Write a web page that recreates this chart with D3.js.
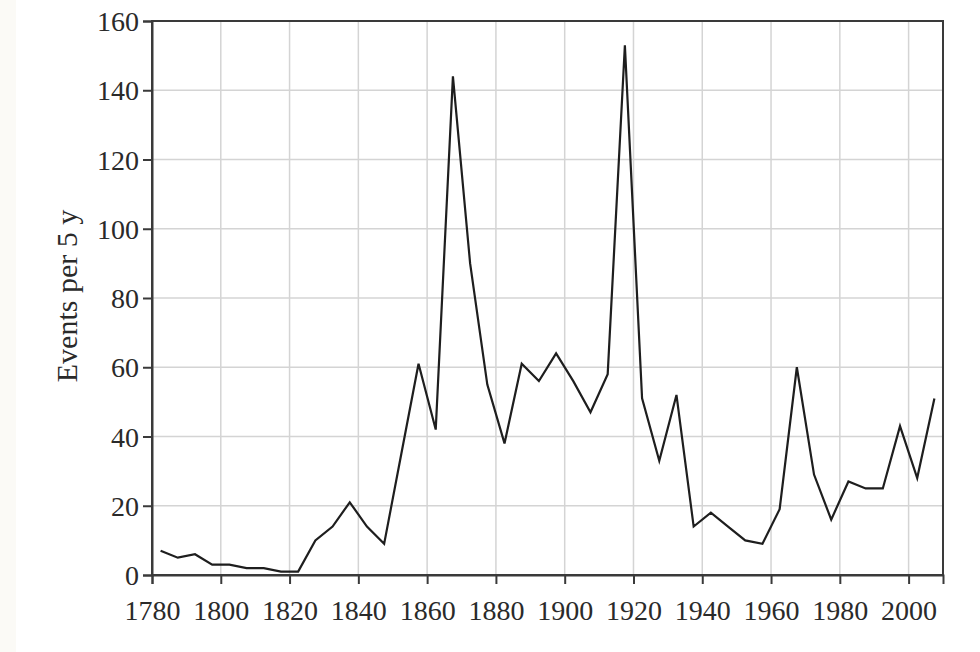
<!DOCTYPE html>
<html><head><meta charset="utf-8">
<script src="https://cdn.jsdelivr.net/npm/d3@7"></script>
<style>
html,body{margin:0;padding:0;background:#fff;}
svg{display:block;}
text{font-family:"Liberation Serif","DejaVu Serif",serif;fill:#2a2a2a;}
</style></head>
<body><svg id="c" width="980" height="652"></svg>
<script>
const years = [1782.5,1787.5,1792.5,1797.5,1802.5,1807.5,1812.5,1817.5,1822.5,1827.5,1832.5,1837.5,1842.5,1847.5,1852.5,1857.5,1862.5,1867.5,1872.5,1877.5,1882.5,1887.5,1892.5,1897.5,1902.5,1907.5,1912.5,1917.5,1922.5,1927.5,1932.5,1937.5,1942.5,1947.5,1952.5,1957.5,1962.5,1967.5,1972.5,1977.5,1982.5,1987.5,1992.5,1997.5,2002.5,2007.5];
const events = [7,5,6,3,3,2,2,1,1,10,14,21,14,9,35,61,42,144,90,55,38,61,56,64,56,47,58,153,51,33,52,14,18,14,10,9,19,60,29,16,27,25,25,43,28,51];
const xTicks = [1780,1800,1820,1840,1860,1880,1900,1920,1940,1960,1980,2000];
const yTicks = [0,20,40,60,80,100,120,140,160];
const yLabel = "Events per 5 y";

const svg = d3.select("#c");
svg.append("rect").attr("x",0).attr("y",0).attr("width",16).attr("height",652).attr("fill","#fbfaf6");

const L=152, R=943, T=21, B=575;
const x = d3.scaleLinear().domain([1780,2010]).range([L,R]);
const y = d3.scaleLinear().domain([0,160]).range([B,T]);

// grid
const g = svg.append("g");
g.selectAll("line.v").data(xTicks.slice(1)).enter().append("line")
  .attr("x1",d=>x(d)).attr("x2",d=>x(d)).attr("y1",T).attr("y2",B)
  .attr("stroke","#d4d4d4").attr("stroke-width",1.5);
g.selectAll("line.h").data(yTicks.slice(1,-1)).enter().append("line")
  .attr("x1",L).attr("x2",R).attr("y1",d=>y(d)).attr("y2",d=>y(d))
  .attr("stroke","#d4d4d4").attr("stroke-width",1.5);

// frame
svg.append("rect").attr("x",L).attr("y",T).attr("width",R-L).attr("height",B-T)
  .attr("fill","none").attr("stroke","#3a3a3a").attr("stroke-width",2);

// axes
const xAxis = svg.append("g").attr("transform",`translate(0,${B})`)
  .call(d3.axisBottom(x).tickValues(xTicks).tickFormat(d3.format("d")).tickSize(9).tickPadding(16));
const yAxis = svg.append("g").attr("transform",`translate(${L},0)`)
  .call(d3.axisLeft(y).tickValues(yTicks).tickSize(9).tickPadding(4));
[xAxis,yAxis].forEach(a=>{
  a.select(".domain").attr("stroke","#3a3a3a").attr("stroke-width",2);
  a.selectAll(".tick line").attr("stroke","#3a3a3a").attr("stroke-width",2);
  a.selectAll(".tick text").attr("font-family","Liberation Serif, serif").attr("font-size",28).attr("fill","#2a2a2a");
});
xAxis.selectAll(".tick text").attr("dy","0.71em");
yAxis.selectAll(".tick text").attr("dy","0.34em");

// line
const line = d3.line().x((d,i)=>x(years[i])).y(d=>y(d));
svg.append("path").datum(events).attr("d",line)
  .attr("fill","none").attr("stroke","#1e1e1e").attr("stroke-width",2.2).attr("stroke-linejoin","miter");

// y label
svg.append("text").attr("transform",`translate(77,296) rotate(-90)`)
  .attr("text-anchor","middle").attr("font-size",30).text(yLabel);
</script></body></html>
